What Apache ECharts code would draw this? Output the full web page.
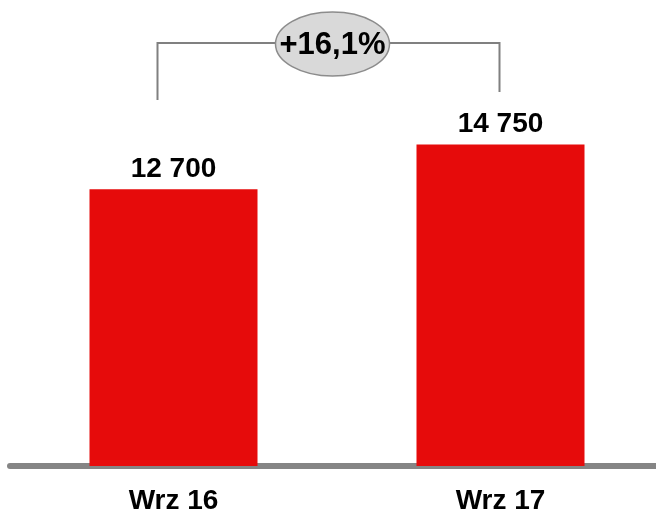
<!DOCTYPE html>
<html>
<head>
<meta charset="utf-8">
<script src="https://cdn.jsdelivr.net/npm/echarts@6/dist/echarts.min.js"></script>
<style>
  html, body { margin: 0; padding: 0; background: #fff; }
  #chart { width: 656px; height: 512px; }
</style>
</head>
<body>
<div id="chart"></div>
<script>
// dane
var categories = ["Wrz 16", "Wrz 17"];
var values = [12700, 14750];

var FONT = "'Liberation Sans', Arial, sans-serif";

function fmtNum(v) {
  // spacja jako separator tysięcy
  return String(v).replace(/\B(?=(\d{3})+(?!\d))/g, " ");
}

var growth = ((values[1] / values[0] - 1) * 100).toFixed(1).replace(".", ",");
var growthLabel = "+" + growth + "%";

var chart = echarts.init(document.getElementById("chart"));

var option = {
  animation: false,
  grid: {
    left: 10,
    right: -8,
    top: 30,
    bottom: 46,
    containLabel: false,
    outerBoundsMode: "none"
  },
  xAxis: {
    type: "category",
    data: categories,
    offset: 3,
    axisLine: { lineStyle: { color: "#858585", width: 6 } },
    axisTick: { show: false },
    axisLabel: {
      margin: 18,
      color: "#000",
      fontFamily: FONT,
      fontWeight: "bold",
      fontSize: 28
    }
  },
  yAxis: {
    type: "value",
    min: 0,
    max: 20000,
    show: false,
    splitLine: { show: false }
  },
  series: [
    {
      type: "bar",
      data: values,
      barWidth: 168,
      itemStyle: { color: "#e60b0b" },
      label: {
        show: true,
        position: "top",
        distance: 6,
        color: "#000",
        fontFamily: FONT,
        fontWeight: "bold",
        fontSize: 28,
        formatter: function (p) { return fmtNum(p.value); }
      }
    }
  ]
};

chart.setOption(option);

// nawias z procentem wzrostu nad słupkami
var p0 = chart.convertToPixel({ seriesIndex: 0 }, [0, 0]);
var p1 = chart.convertToPixel({ seriesIndex: 0 }, [1, 0]);
var xL = p0[0] - 16;
var xR = p1[0] - 1;
var yTop = 43;
var cx = (xL + xR) / 2 + 4;
var lineStyle = { stroke: "#808080", lineWidth: 2 };

chart.setOption({
  graphic: [
    {
      type: "polyline",
      shape: { points: [[xL, 100], [xL, yTop], [xR, yTop], [xR, 92]] },
      style: lineStyle,
      z: 10
    },
    {
      type: "ellipse",
      shape: { cx: cx, cy: 44, rx: 57, ry: 32 },
      style: { fill: "#d9d9d9", stroke: "#8c8c8c", lineWidth: 1.5 },
      z: 11
    },
    {
      type: "text",
      x: cx,
      y: 45,
      style: {
        text: growthLabel,
        fill: "#000",
        font: "bold 31px " + FONT,
        textAlign: "center",
        textVerticalAlign: "middle"
      },
      z: 12
    }
  ]
});
</script>
</body>
</html>
